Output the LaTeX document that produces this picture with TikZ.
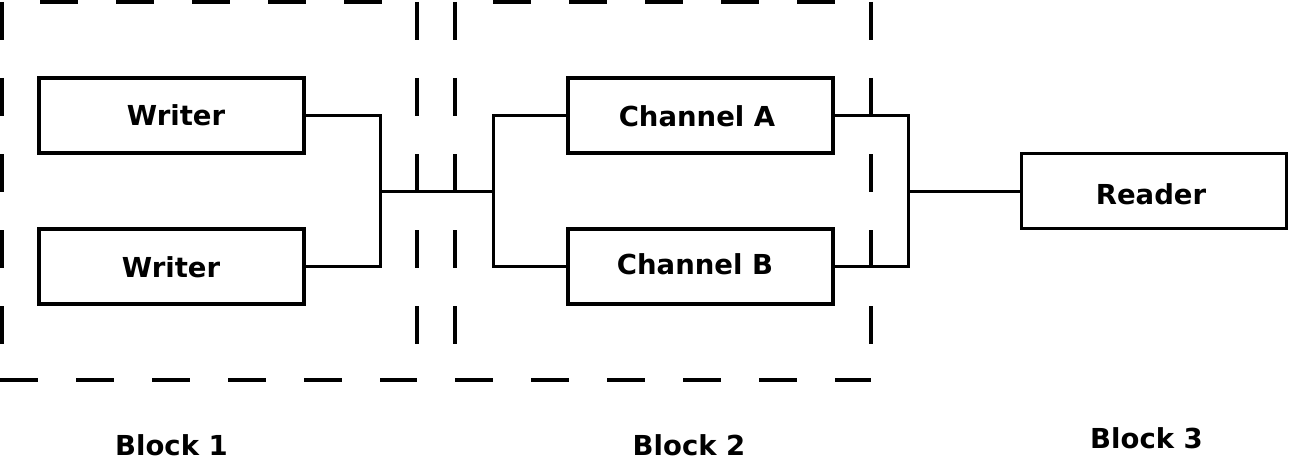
\documentclass[tikz,border=0pt]{standalone}
\usepackage{fontspec}
\setmainfont{DejaVu Sans}
\newcommand\tsh[3]{\raisebox{#2pt}{\makebox[0pt]{\hspace*{#1pt}#3}}}
\begin{document}
\begin{tikzpicture}[x=1pt,y=-1pt,
  txt/.style={font=\fontsize{27.5}{30}\selectfont\bfseries},
  blk/.style={draw, line width=3.5pt, minimum width=265pt, minimum height=75pt, inner sep=0pt, text height=20pt, text depth=0pt, txt},
  wire/.style={line width=3pt},
  dsh/.style={line width=3.5pt, dash pattern=on 38pt off 38pt},
  dshoff/.style={dsh, dash phase=38pt},
  lbl/.style={anchor=base, txt}]
\useasboundingbox (0,0) rectangle (1289,476);
% dashed groups
\draw[dsh] (2,2) -- (2,380);
\draw[dshoff] (2,2) -- (417,2);
\draw[dsh] (417,2) -- (417,380);
\draw[dsh] (0,380) -- (417,380);
\draw[dsh] (455,2) -- (455,380);
\draw[dshoff] (455,2) -- (871,2);
\draw[dsh] (871,2) -- (871,380);
\draw[dsh] (455,380) -- (871,380);
% boxes
\node[blk] (w1) at (171.5,115.5) {\tsh{9}{0}{Writer}};
\node[blk] (w2) at (171.5,266.5) {\tsh{-1}{-0.5}{Writer}};
\node[blk] (ca) at (700.5,115.5) {\tsh{-7}{-1.5}{Channel A}};
\node[blk] (cb) at (700.5,266.5) {\tsh{-11}{2.5}{Channel B}};
\node[blk] (rd) at (1154,191) {\tsh{-6}{-3}{Reader}};
% junctions
\coordinate (j1) at (380,191);
\coordinate (j2) at (493,191);
\coordinate (j3) at (908,191);
% connectors
\draw[wire] (w1.east) -| (j1) |- (w2.east);
\draw[wire] (j1) -- (j2);
\draw[wire] (ca.west) -| (j2) |- (cb.west);
\draw[wire] (ca.east) -| (j3) |- (cb.east);
\draw[wire] (j3) -- (rd.west);
% labels
\node[lbl] (b1) at (171.5,455) {Block 1};
\node[lbl] (b2) at (689,455) {Block 2};
\node[lbl] (b3) at (1146.5,448) {Block 3};
\end{tikzpicture}
\end{document}
